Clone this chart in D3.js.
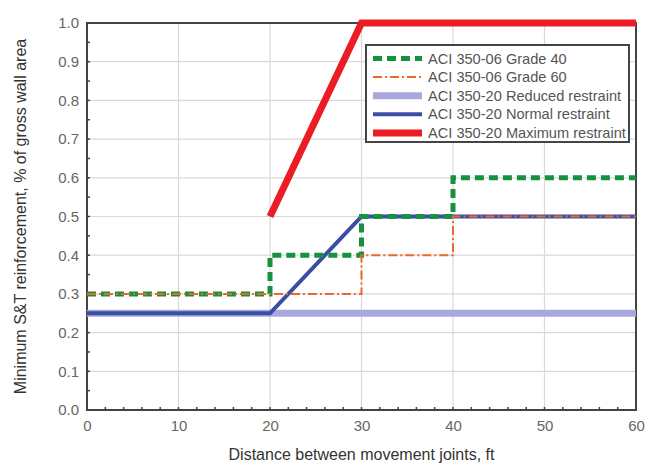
<!DOCTYPE html>
<html><head><meta charset="utf-8">
<script src="https://cdn.jsdelivr.net/npm/d3@7"></script>
<style>
html,body{margin:0;padding:0;background:#fff;}
svg{display:block;font-family:"Liberation Sans",Arial,sans-serif;}
</style></head>
<body>
<svg id="c" width="648" height="465"></svg>
<script>
// ---- data ----
const xTicks = [0,10,20,30,40,50,60];
const yTicks = [0,0.1,0.2,0.3,0.4,0.5,0.6,0.7,0.8,0.9,1.0];
const grade40X = [0,20,20,30,30,40,40,60];
const grade40Y = [0.3,0.3,0.4,0.4,0.5,0.5,0.6,0.6];
const grade60X = [0,30,30,40,40,60];
const grade60Y = [0.3,0.3,0.4,0.4,0.5,0.5];
const reducedX = [0,60];
const reducedY = [0.25,0.25];
const normalX = [0,20,30,60];
const normalY = [0.25,0.25,0.5,0.5];
const maximumX = [20,30,60];
const maximumY = [0.5,1.0,1.0];
const seriesNames = ["ACI 350-06 Grade 40","ACI 350-06 Grade 60","ACI 350-20 Reduced restraint","ACI 350-20 Normal restraint","ACI 350-20 Maximum restraint"];
const xTitle = "Distance between movement joints, ft";
const yTitle = "Minimum S&T reinforcement, % of gross wall area";

const svg = d3.select("#c");
const L=87, R=636, T=23, B=410;
const x = d3.scaleLinear().domain([0,60]).range([L,R]);
const y = d3.scaleLinear().domain([0,1]).range([B,T]);

// grid
svg.append("g").selectAll("line").data(xTicks.slice(1,-1)).join("line")
  .attr("x1",d=>x(d)).attr("x2",d=>x(d)).attr("y1",T).attr("y2",B)
  .attr("stroke","#d9d9d9").attr("stroke-width",1.2);
svg.append("g").selectAll("line").data(yTicks.slice(1,-1)).join("line")
  .attr("y1",d=>y(d)).attr("y2",d=>y(d)).attr("x1",L).attr("x2",R)
  .attr("stroke","#d9d9d9").attr("stroke-width",1.2);

// axes with inward ticks
const xAxis = d3.axisBottom(x).tickValues(xTicks).tickSize(0).tickPadding(10).tickFormat(d3.format("d"));
const gx = svg.append("g").attr("transform",`translate(0,${B})`).call(xAxis);
gx.select(".domain").remove();
gx.selectAll("text").attr("font-size",15).attr("fill","#666").attr("font-family","Liberation Sans, Arial");
const yAxis = d3.axisLeft(y).tickValues(yTicks).tickSize(0).tickPadding(8).tickFormat(d3.format(".1f"));
const gy = svg.append("g").attr("transform",`translate(${L},0)`).call(yAxis);
gy.select(".domain").remove();
gy.selectAll("text").attr("font-size",15).attr("fill","#666").attr("font-family","Liberation Sans, Arial");

// minor ticks
const xMinor = d3.range(0,61,2);
svg.append("g").selectAll("line").data(xMinor).join("line")
  .attr("x1",d=>x(d)).attr("x2",d=>x(d)).attr("y1",B).attr("y2",B-3)
  .attr("stroke","#444").attr("stroke-width",1.5);
const yMinor = d3.range(0,1.0001,0.05);
svg.append("g").selectAll("line").data(yMinor).join("line")
  .attr("y1",d=>y(d)).attr("y2",d=>y(d)).attr("x1",L).attr("x2",L+3)
  .attr("stroke","#444").attr("stroke-width",1.5);

// frame
svg.append("rect").attr("x",L).attr("y",T).attr("width",R-L).attr("height",B-T)
  .attr("fill","none").attr("stroke","#444").attr("stroke-width",2);

// series
const styles = [
  {stroke:"#17913f", w:5, dash:"9,5"},
  {stroke:"#f0672b", w:2, dash:"9,3,2,3"},
  {stroke:"#a9a8dc", w:7, dash:null},
  {stroke:"#3b4ea6", w:4, dash:null},
  {stroke:"#ec1c24", w:7, dash:null}
];
const data = [
  d3.zip(grade40X,grade40Y), d3.zip(grade60X,grade60Y), d3.zip(reducedX,reducedY),
  d3.zip(normalX,normalY), d3.zip(maximumX,maximumY)
];
const line = d3.line().x(d=>x(d[0])).y(d=>y(d[1]));
const order = [2,3,0,1,4];
order.forEach(i=>{
  svg.append("path").datum(data[i]).attr("d",line)
    .attr("fill","none").attr("stroke",styles[i].stroke).attr("stroke-width",styles[i].w)
    .attr("stroke-dasharray",styles[i].dash).attr("stroke-linejoin","miter").attr("stroke-linecap","butt");
});

// legend
const lg = svg.append("g");
lg.append("rect").attr("x",366).attr("y",45).attr("width",263).attr("height",97)
  .attr("fill","#fff").attr("stroke","#444").attr("stroke-width",2);
seriesNames.forEach((n,i)=>{
  const yy = 58.5 + i*18.6;
  lg.append("line").attr("x1",373).attr("x2",422).attr("y1",yy).attr("y2",yy)
    .attr("stroke",styles[i].stroke).attr("stroke-width",styles[i].w)
    .attr("stroke-dasharray",styles[i].dash);
  lg.append("text").attr("x",428).attr("y",yy+5).attr("font-size",14.6).attr("fill","#555").text(n);
});

// titles
svg.append("text").attr("x",(L+R)/2).attr("y",460).attr("text-anchor","middle")
  .attr("font-size",16).attr("fill","#333").text(xTitle);
svg.append("text").attr("transform",`translate(26,${(T+B)/2}) rotate(-90)`).attr("text-anchor","middle")
  .attr("font-size",16).attr("fill","#333").text(yTitle);
</script>
</body></html>
